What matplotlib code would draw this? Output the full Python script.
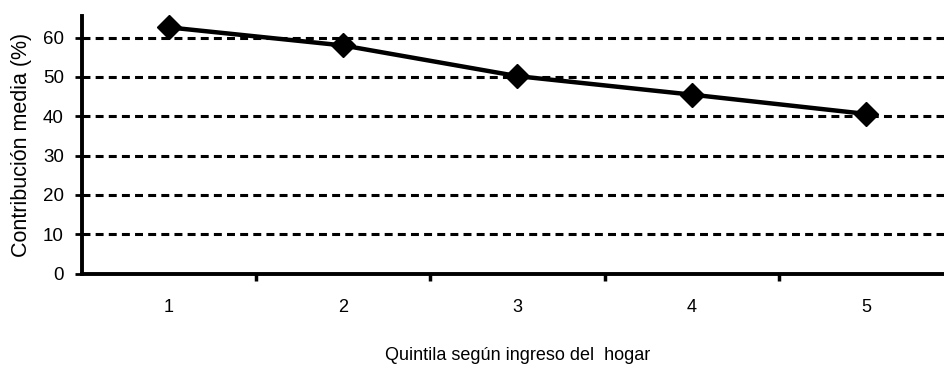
import matplotlib
matplotlib.use("Agg")
import matplotlib.pyplot as plt

plt.rcParams['font.family'] = ['Liberation Sans', 'DejaVu Sans']

quintiles = [1, 2, 3, 4, 5]
contribution = [62.6, 58.0, 50.2, 45.5, 40.6]
yticks = [0, 10, 20, 30, 40, 50, 60]

W, H = 945, 370
fig = plt.figure(figsize=(W / 100, H / 100), dpi=100)
left, right, top, bottom = 82, 953, 16, 273.5
ax = fig.add_axes([left / W, (H - bottom) / H, (right - left) / W, (bottom - top) / H])

for y in yticks[1:]:
    ax.axhline(y, color='black', lw=2.2, ls=(0, (2.6, 1.7)), zorder=1)

ax.plot(quintiles, contribution, color='black', lw=3.2, marker='D', markersize=12,
        zorder=3, clip_on=False)

ax.set_xlim(0.5, 5.5)
ax.set_ylim(0, 65.5)
ax.set_yticks(yticks)
ax.set_xticks(quintiles)
ax.set_xticks([1.5, 2.5, 3.5, 4.5], minor=True)
ax.tick_params(axis='x', which='major', length=0, pad=18, labelsize=13)
ax.tick_params(axis='x', which='minor', length=5, width=2.5, direction='out')
ax.tick_params(axis='y', length=5, width=2, direction='out', pad=8, labelsize=13.5)

for s in ['top', 'right']:
    ax.spines[s].set_visible(False)
for s in ['left', 'bottom']:
    ax.spines[s].set_linewidth(2.8)

ax.set_ylabel('Contribución media (%)', fontsize=15.5, labelpad=8)
ax.set_xlabel('Quintila según ingreso del  hogar', fontsize=13, labelpad=23)

fig.savefig('out.png', dpi=100)
